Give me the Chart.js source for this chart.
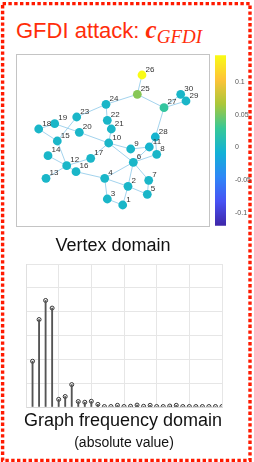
<!DOCTYPE html>
<html>
<head>
<meta charset="utf-8">
<script src="https://cdn.jsdelivr.net/npm/chart.js@4/dist/chart.umd.min.js"></script>
<style>
  html, body { margin: 0; padding: 0; background: #fff; }
  #page { position: relative; width: 254px; height: 462px; overflow: hidden; font-family: "Liberation Sans", Arial, sans-serif; }
  .abs { position: absolute; }
  .lbl { position: absolute; left: 0; width: 254px; text-align: center; color: #111; white-space: nowrap; }
</style>
</head>
<body>
<div id="page">
  <svg class="abs" style="left:0;top:0" width="254" height="462">
    <rect x="2.6" y="3.6" width="247.4" height="456.8" fill="none" stroke="#ff1a00" stroke-width="3.4" stroke-dasharray="3.4 2.4"></rect>
  </svg>

  <div class="abs" style="left:16px;top:19px;line-height:22px;color:#ff2d0a;white-space:nowrap;">
    <span style="font-size:22px;">GFDI attack: </span><span style="font-family:'Liberation Serif',serif;font-style:italic;font-weight:bold;font-size:25px;">c</span><span style="font-family:'Liberation Serif',serif;font-style:italic;font-size:19px;position:relative;top:5px;">GFDI</span>
  </div>

  <canvas id="graph" class="abs" style="left:16px;top:54px;"></canvas>
  <canvas id="cbar" class="abs" style="left:213px;top:42px;"></canvas>

  <div class="lbl" style="top:235px;font-size:18px;left:-14px;">Vertex domain</div>

  <canvas id="stem" class="abs" style="left:22px;top:260px;"></canvas>

  <div class="lbl" style="top:410px;font-size:18px;left:-4px;">Graph frequency domain</div>
  <div class="lbl" style="top:434px;font-size:14px;left:-3px;">(absolute value)</div>
</div>

<script>
// graph node layout (node 1..30)
const NODE_X = [92.7, 98, 77.3, 74.7, 117.3, 103.3, 118.7, 126.7, 100.7, 78.7,
                119.3, 36.7, 16, 18, 27.3, 46, 60.7, 8.7, 24.7, 49.3,
                81.3, 77.3, 46.7, 76, 107.3, 112, 134, 125.3, 156, 150.7];
const NODE_Y = [21, 39.7, 27, 47.7, 31.7, 63.7, 45.7, 71.7, 77, 83,
                79, 60.3, 47.7, 70.3, 85, 54.3, 67.7, 97, 102.3, 93.7,
                97, 105.7, 109, 121.7, 131.7, 151, 118.3, 89, 125, 131.7];
// attack signal on vertices
const SIGNAL = [0, 0, 0, 0, 0, 0, 0, 0, 0, 0,
                -0.003, 0, 0, 0, 0, 0, 0, 0, 0, 0,
                0, 0, 0, 0, 0.055, 0.141, 0.025, -0.004, 0, 0];
const EDGES = [[26,25],[25,24],[25,27],[27,30],[27,29],[27,28],[28,11],[28,8],[11,9],
               [11,6],[9,10],[10,6],[6,8],[6,4],[6,2],[6,7],[7,5],[2,5],[2,4],[2,1],
               [4,3],[3,1],[4,16],[16,12],[12,13],[12,14],[12,15],[12,17],[17,10],
               [10,20],[20,19],[19,18],[18,15],[15,23],[23,24],[24,22],[22,21],[21,10]];

// colorbar
const CB_MIN = -0.12;
const CB_MAX = 0.141;
const CB_TICKS = [-0.1, -0.05, 0, 0.05, 0.1];
const PARULA = ['#3e26a8', '#4852f4', '#2e87f7', '#12b1d6', '#37c897', '#abc739', '#fec338', '#f9fb15'];

// graph frequency domain (|GFT|), index 1..30
const STEM_X = [1,2,3,4,5,6,7,8,9,10,11,12,13,14,15,16,17,18,19,20,21,22,23,24,25,26,27,28,29,30];
const STEM_Y = [1.92, 3.67, 4.47, 4.15, 0.32, 0.44, 0.94, 0.23, 0.2, 0.24,
                0.11, 0.02, 0.02, 0.07, 0.02, 0.03, 0.08, 0.03, 0.07, 0.02,
                0.02, 0.04, 0.07, 0.02, 0.02, 0.02, 0.02, 0.02, 0.02, 0.02];

function hexRgb(h) {
  return [parseInt(h.substr(1,2),16), parseInt(h.substr(3,2),16), parseInt(h.substr(5,2),16)];
}
function parula(v) {
  let t = (v - CB_MIN) / (CB_MAX - CB_MIN);
  t = Math.max(0, Math.min(1, t));
  const p = t * (PARULA.length - 1);
  const i = Math.min(Math.floor(p), PARULA.length - 2);
  const f = p - i;
  const a = hexRgb(PARULA[i]), b = hexRgb(PARULA[i+1]);
  const c = a.map((x, k) => Math.round(x + (b[k] - x) * f));
  return 'rgb(' + c.join(',') + ')';
}

const size = (id, w, h) => {
  const c = document.getElementById(id);
  c.width = w; c.height = h;
  c.style.width = w + 'px'; c.style.height = h + 'px';
  return c;
};

// edges + box + node numbers
const graphDeco = {
  id: 'graphDeco',
  beforeDatasetsDraw(chart) {
    const ctx = chart.ctx, sx = chart.scales.x, sy = chart.scales.y;
    ctx.save();
    ctx.strokeStyle = 'rgba(140,200,232,0.8)';
    ctx.lineWidth = 1;
    EDGES.forEach(([a, b]) => {
      ctx.beginPath();
      ctx.moveTo(sx.getPixelForValue(NODE_X[a-1]), sy.getPixelForValue(NODE_Y[a-1]));
      ctx.lineTo(sx.getPixelForValue(NODE_X[b-1]), sy.getPixelForValue(NODE_Y[b-1]));
      ctx.stroke();
    });
    ctx.restore();
  },
  afterDatasetsDraw(chart) {
    const ctx = chart.ctx, sx = chart.scales.x, sy = chart.scales.y, a = chart.chartArea;
    ctx.save();
    ctx.font = '8px "Liberation Sans", Arial, sans-serif';
    ctx.fillStyle = '#333';
    ctx.textBaseline = 'alphabetic';
    NODE_X.forEach((x, i) => {
      ctx.fillText(String(i + 1), sx.getPixelForValue(x) + 3.5, sy.getPixelForValue(NODE_Y[i]) - 3.5);
    });
    ctx.strokeStyle = '#c4c4c4';
    ctx.lineWidth = 1;
    ctx.strokeRect(a.left + 0.5, a.top + 0.5, a.right - a.left - 1, a.bottom - a.top - 1);
    ctx.restore();
  }
};

new Chart(size('graph', 194, 173), {
  type: 'scatter',
  data: {
    datasets: [{
      data: NODE_X.map((x, i) => ({ x: x, y: NODE_Y[i] })),
      pointRadius: 4.4,
      pointHoverRadius: 4.4,
      borderWidth: 0,
      backgroundColor: SIGNAL.map(parula)
    }]
  },
  options: {
    responsive: false,
    animation: false,
    events: [],
    layout: { padding: 0, autoPadding: false },
    plugins: { legend: { display: false }, tooltip: { enabled: false } },
    scales: {
      x: { display: false, min: -14, max: 180 },
      y: { display: false, min: -1, max: 172 }
    }
  },
  plugins: [graphDeco]
});

// colorbar as a single floating bar with a gradient fill
new Chart(size('cbar', 43, 197), {
  type: 'bar',
  data: {
    labels: [''],
    datasets: [{
      data: [[CB_MIN, CB_MAX]],
      barPercentage: 1,
      categoryPercentage: 1,
      borderWidth: 0,
      backgroundColor(c) {
        const a = c.chart.chartArea;
        if (!a) return '#ccc';
        const g = c.chart.ctx.createLinearGradient(0, a.bottom, 0, a.top);
        PARULA.forEach((col, i) => g.addColorStop(i / (PARULA.length - 1), col));
        return g;
      }
    }]
  },
  options: {
    responsive: false,
    animation: false,
    events: [],
    layout: { padding: { left: 2, top: 5, bottom: 5, right: 0 }, autoPadding: false },
    plugins: { legend: { display: false }, tooltip: { enabled: false } },
    scales: {
      x: { display: false },
      y: {
        position: 'right',
        min: CB_MIN,
        max: CB_MAX,
        grid: { display: false, drawTicks: false },
        border: { display: false },
        afterBuildTicks(s) { s.ticks = CB_TICKS.map(v => ({ value: v })); },
        afterFit(s) { s.width = 30; },
        ticks: {
          padding: 9, color: '#555',
          font: { size: 7, family: '"Liberation Sans", Arial, sans-serif' },
          callback: v => String(v)
        }
      }
    }
  }
});

// stem plot of the graph Fourier coefficients
new Chart(size('stem', 204, 151), {
  type: 'bar',
  data: {
    datasets: [{
      type: 'bar',
      data: STEM_X.map((x, i) => ({ x: x, y: STEM_Y[i] })),
      barThickness: 1.2,
      backgroundColor: '#555',
      borderWidth: 0
    }, {
      type: 'scatter',
      data: STEM_X.map((x, i) => ({ x: x, y: STEM_Y[i] })),
      pointRadius: 2,
      pointBorderWidth: 1,
      pointBorderColor: '#333',
      pointBackgroundColor: '#fff'
    }]
  },
  options: {
    responsive: false,
    animation: false,
    events: [],
    layout: { padding: 4, autoPadding: false },
    plugins: { legend: { display: false }, tooltip: { enabled: false } },
    scales: {
      x: {
        type: 'linear', min: 0, max: 30, offset: false,
        grid: { color: '#e6e6e6', drawTicks: false, offset: false },
        border: { color: '#d8d8d8' },
        ticks: { display: false, stepSize: 5 }
      },
      y: {
        min: 0, max: 6,
        grid: { color: '#e6e6e6', drawTicks: false },
        border: { color: '#e0e0e0' },
        ticks: { display: false, stepSize: 1 }
      }
    }
  }
});
</script>
</body>
</html>
